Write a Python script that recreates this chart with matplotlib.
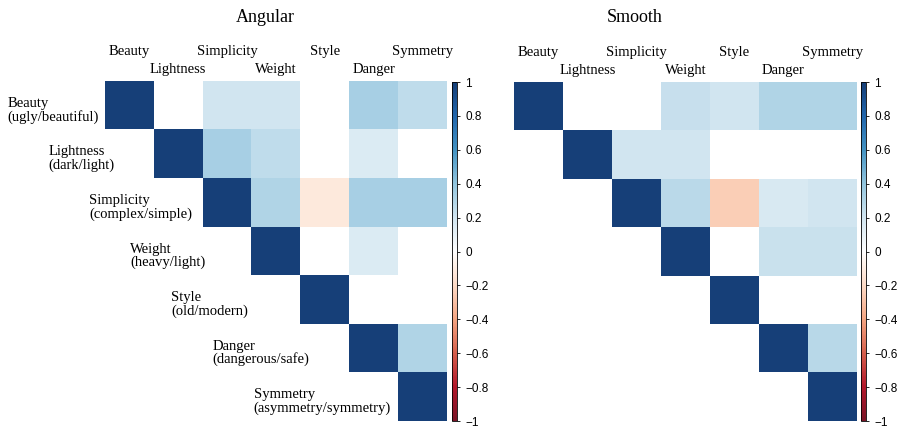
# две треугольные корреляционные матрицы
import numpy as np
import matplotlib
matplotlib.use('Agg')
import matplotlib.pyplot as plt
from matplotlib.colors import LinearSegmentedColormap

# шкалы
scales = ['Beauty', 'Lightness', 'Simplicity', 'Weight', 'Style', 'Danger', 'Symmetry']
poles = ['(ugly/beautiful)', '(dark/light)', '(complex/simple)', '(heavy/light)',
         '(old/modern)', '(dangerous/safe)', '(asymmetry/symmetry)']

n = np.nan
# верхний треугольник, пустые клетки = nan
angular = [[1, n, 0.20, 0.20, n, 0.33, 0.25],
           [n, 1, 0.33, 0.25, n, 0.15, n],
           [n, n, 1, 0.30, -0.12, 0.33, 0.33],
           [n, n, n, 1, n, 0.15, n],
           [n, n, n, n, 1, n, n],
           [n, n, n, n, n, 1, 0.30],
           [n, n, n, n, n, n, 1]]

smooth = [[1, n, n, 0.23, 0.20, 0.30, 0.30],
          [n, 1, 0.20, 0.20, n, n, n],
          [n, n, 1, 0.27, -0.25, 0.17, 0.20],
          [n, n, n, 1, n, 0.22, 0.22],
          [n, n, n, n, 1, n, n],
          [n, n, n, n, n, 1, 0.28],
          [n, n, n, n, n, n, 1]]

cbar_ticks = [1, 0.8, 0.6, 0.4, 0.2, 0, -0.2, -0.4, -0.6, -0.8, -1]

cmap = LinearSegmentedColormap.from_list('rdbu', [
    '#7a1426', '#b2182b', '#d6604d', '#f4a582', '#fddbc7', '#ffffff',
    '#d1e5f0', '#92c5de', '#4393c3', '#2166ac', '#163f78'])
cmap.set_bad('white')

serif = 'Liberation Serif'

fig = plt.figure(figsize=(9.03, 4.28), dpi=100)


def draw(rect, cbrect, data, title, title_x, row_labels):
    ax = fig.add_axes(rect)
    im = ax.imshow(np.array(data, dtype=float), cmap=cmap, vmin=-1, vmax=1,
                   aspect='auto', interpolation='nearest')
    ax.set_xlim(-0.5, 6.5)
    ax.set_ylim(6.5, -0.5)
    ax.axis('off')
    # подписи столбцов в два ряда
    for i, s in enumerate(scales):
        y = -1.1 if i % 2 == 0 else -0.73
        ax.text(i, y, s, ha='center', va='center', fontsize=10.5,
                family=serif, clip_on=False)
    if row_labels:
        for i, (s, p) in enumerate(zip(scales, poles)):
            ax.text(-2.5 + 0.84 * i, i + 0.1, s + '\n' + p, ha='left',
                    va='center', fontsize=10.5, family=serif,
                    linespacing=1.0, clip_on=False)
    fig.text(title_x, 1 - 17 / 428, title, ha='center', va='center',
             fontsize=13, family=serif)
    cax = fig.add_axes(cbrect)
    cb = fig.colorbar(im, cax=cax, ticks=cbar_ticks)
    cb.outline.set_linewidth(0.6)
    cax.tick_params(length=2, width=0.6, pad=4, labelsize=8.5)
    cax.set_yticklabels([f'{t:g}'.replace('-', '\u2212') for t in cbar_ticks],
                        family='Liberation Sans')


draw([105 / 903, 1 - 421 / 428, 342 / 903, 340 / 428],
     [452 / 903, 1 - 421 / 428, 5 / 903, 339 / 428],
     angular, 'Angular', 265 / 903, True)
draw([514 / 903, 1 - 421 / 428, 343 / 903, 339 / 428],
     [861 / 903, 1 - 421 / 428, 5 / 903, 339 / 428],
     smooth, 'Smooth', 635 / 903, False)

fig.savefig('out.png', dpi=100)
